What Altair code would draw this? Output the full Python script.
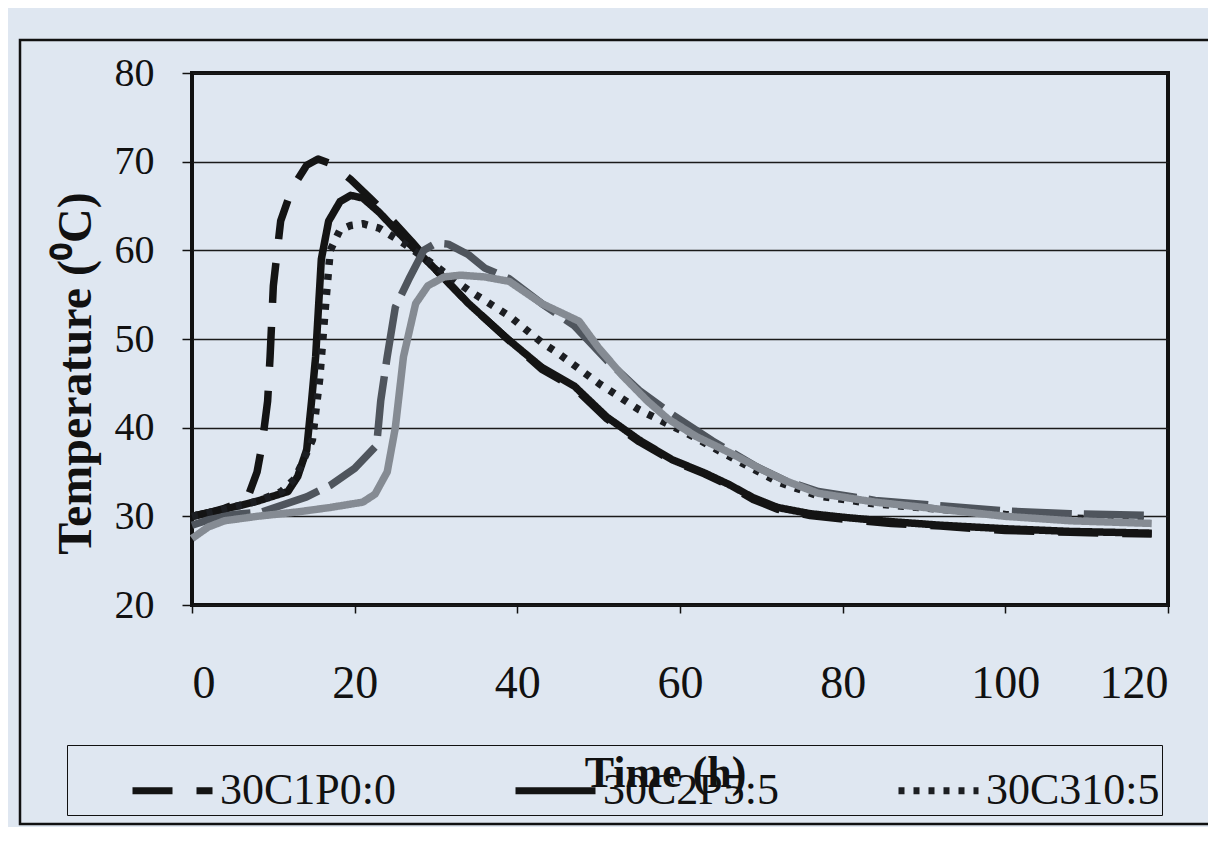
import altair as alt
import pandas as pd

# ---- data (hours, degC) ----
series_names = ["30C1P0:0", "30C2P5:5", "30C310:5", "grey dashed", "grey solid"]
legend_names = ["30C1P0:0", "30C2P5:5", "30C310:5"]

t_c1p0 = [0, 2, 4, 6, 7, 8, 8.6, 9.3, 9.6, 10, 10.9, 12.3, 14.1, 15.5, 17, 19.5, 22, 24, 27, 30,
          34, 38.8, 43, 47, 51, 55, 59, 63, 66, 69, 72, 76, 80, 86, 92, 100, 108, 118]
v_c1p0 = [30, 30.4, 30.9, 31.6, 32.5, 35, 38, 43, 48, 56, 63.3, 67, 69.6, 70.3, 69.8, 68, 65.8, 64, 61, 57.8,
          54, 50, 46.6, 44.5, 41, 38.4, 36.3, 34.8, 33.5, 31.9, 30.8, 30.1, 29.7, 29.2, 28.9, 28.4, 28.2, 28]

t_c2p5 = [0, 4, 8, 11.8, 13, 14.1, 14.7, 15.2, 15.9, 16.8, 18.2, 19.5, 21, 23, 26, 30, 34, 38.8, 43, 47,
          51, 55, 59, 63, 66, 69, 72, 76, 80, 86, 92, 100, 108, 118]
v_c2p5 = [30, 30.8, 31.7, 32.8, 34.5, 37.5, 43, 48, 59, 63.3, 65.5, 66.2, 65.9, 64.3, 61.4, 57.8, 54, 50, 46.8, 44.7,
          41.2, 38.6, 36.4, 34.9, 33.6, 32.1, 31, 30.3, 29.9, 29.4, 29, 28.6, 28.3, 28.1]

t_c310 = [0, 4, 8, 11, 12.7, 14.8, 15.7, 16.4, 17, 18.2, 19.5, 21, 23, 26, 30, 34, 39, 43, 45, 50,
          55, 61, 66, 72, 77, 84, 92, 100, 108, 118]
v_c310 = [30, 30.8, 31.7, 32.8, 34.3, 38.6, 45.5, 53.6, 60, 62.3, 62.8, 63, 62.5, 60.8, 58.2, 55.5, 52.6, 49.6, 48.4, 45,
          42, 39.3, 36.8, 33.9, 32.3, 31.4, 30.8, 30.2, 29.8, 29.6]

t_grey_d = [0, 2, 5, 8.6, 14.1, 17, 20, 22.7, 23.2, 24, 25, 26.8, 28.5, 30, 31.5, 34, 36, 39, 43, 47,
            51, 55, 59, 64, 69.4, 73, 77, 84, 92, 100, 108, 118]
v_grey_d = [29, 29.6, 30.2, 30.5, 32.2, 33.5, 35.4, 38, 43, 48, 53.6, 57, 60, 60.8, 60.7, 59.5, 58, 56.8, 54, 51.5,
            47.6, 44.2, 41.5, 38.5, 35.6, 34, 32.8, 31.8, 31.2, 30.6, 30.3, 30.1]

t_grey_s = [0, 2, 4, 8, 13, 17, 21, 22.5, 24, 25, 26, 27.5, 29, 31, 33, 36, 39, 43, 47.6, 50,
            53, 56, 58.5, 62, 66.5, 70, 73, 77, 84, 92, 100, 108, 118]
v_grey_s = [27.5, 28.8, 29.5, 30, 30.5, 31, 31.6, 32.5, 35, 40, 48, 54, 56, 57, 57.2, 57, 56.5, 54, 52, 49,
            45.8, 43, 41, 39, 37, 35.3, 34, 32.6, 31.6, 30.8, 30, 29.5, 29.2]

x_ticks = [0, 20, 40, 60, 80, 100, 120]
y_ticks = [20, 30, 40, 50, 60, 70, 80]

series_colors = ["#141414", "#141414", "#1c1e22", "#4f555d", "#858b93"]
series_dash = [[40, 24], [1, 0], [6, 9], [60, 12], [1, 0]]
draw_order = [4, 3, 2, 1, 0]

rows = []
for name, ts, vs, o in zip(series_names,
                           [t_c1p0, t_c2p5, t_c310, t_grey_d, t_grey_s],
                           [v_c1p0, v_c2p5, v_c310, v_grey_d, v_grey_s],
                           draw_order):
    for i, (t, v) in enumerate(zip(ts, vs)):
        rows.append({"series": name, "hour": t, "temp": v, "i": i, "z": o})
df = pd.DataFrame(rows)

serif = "Liberation Serif"

leg = alt.Legend(
    title=None, values=legend_names, orient="none", legendX=-125, legendY=672,
    direction="horizontal", columns=3, symbolType="stroke", symbolSize=6400,
    symbolStrokeWidth=7, symbolOffset=60, labelFont=serif, labelFontSize=44,
    labelColor="#111111", labelOffset=4, labelLimit=400, columnPadding=55, padding=2,
    strokeColor="#111111",
)

lines = alt.Chart(df).mark_line(strokeWidth=7.5, strokeJoin="round").encode(
    x=alt.X("hour:Q", scale=alt.Scale(domain=[0, 120], nice=False),
            axis=alt.Axis(values=x_ticks, grid=False, title="Time (h)", domain=False,
                          tickSize=8, tickWidth=1.5, tickColor="#111111",
                          labelPadding=48, labelFont=serif, labelFontSize=46,
                          labelColor="#111111", titleFont=serif, titleFontSize=44,
                          titleFontWeight="bold", titleColor="#111111",
                          titleX=473, titleY=168, titleBaseline="middle")),
    y=alt.Y("temp:Q", scale=alt.Scale(domain=[20, 80], nice=False, zero=False),
            axis=alt.Axis(values=y_ticks, grid=True, gridColor="#1a1a1a", gridWidth=1.6,
                          domain=False, tickSize=10, tickWidth=1.5, tickColor="#111111",
                          labelPadding=28, labelFont=serif, labelFontSize=40,
                          labelColor="#111111", title="Temperature (⁰C)",
                          titleFont=serif, titleFontSize=48, titleFontWeight="bold",
                          titleColor="#111111", titleX=-116, titleY=300,
                          titleBaseline="middle")),
    color=alt.Color("series:N", scale=alt.Scale(domain=series_names, range=series_colors), legend=leg),
    strokeDash=alt.StrokeDash("series:N", scale=alt.Scale(domain=series_names, range=series_dash), legend=leg),
    detail="series:N",
    order="i:Q",
)

frame = alt.Chart(pd.DataFrame({"k": [0]})).mark_rect(
    fillOpacity=0, stroke="#111111", strokeWidth=2.5
).encode(x=alt.value(-172), x2=alt.value(1020), y=alt.value(-33), y2=alt.value(751))

chart = alt.layer(frame, lines).properties(
    width=976, height=532,
    autosize=alt.AutoSizeParams(type="none"),
    padding={"left": 184, "top": 65, "right": 40, "bottom": 222},
    background="#dfe7f1",
).configure_view(stroke="#111111", strokeWidth=4)

chart.save("out.html", embed_options={"renderer": "svg", "actions": False})
